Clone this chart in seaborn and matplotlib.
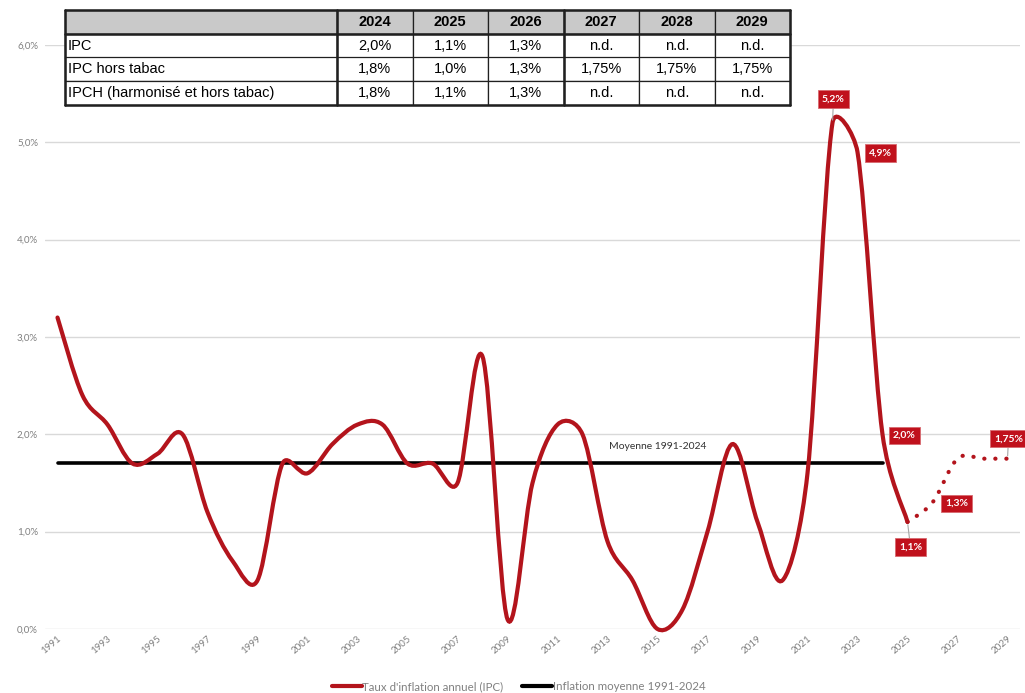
import matplotlib
matplotlib.use("Agg")
import matplotlib.pyplot as plt
from matplotlib.path import Path
from matplotlib.patches import PathPatch
from matplotlib.lines import Line2D
from matplotlib.ticker import FuncFormatter
import numpy as np
import pandas as pd
import seaborn as sns

# Taux d'inflation annuel (IPC), historique
years = list(range(1991, 2026))
inflation = [3.2, 2.4, 2.1, 1.7, 1.8, 2.0, 1.2, 0.7, 0.5, 1.7,
             1.6, 1.9, 2.1, 2.1, 1.7, 1.7, 1.5, 2.8, 0.1, 1.5,
             2.1, 2.0, 0.9, 0.5, 0.0, 0.2, 1.0, 1.9, 1.1, 0.5,
             1.6, 5.2, 4.9, 2.0, 1.1]

# Prévisions (pointillés)
fc_years = [2025, 2026, 2027, 2028, 2029]
fc_values = [1.1, 1.3, 1.75, 1.75, 1.75]

# Inflation moyenne 1991-2024
mean_years = [1991, 2024]
mean_value = 1.71

# Etiquettes de valeurs sur la courbe
label_years = [2022, 2023, 2024, 2025, 2026, 2029]
label_texts = ["5,2%", "4,9%", "2,0%", "1,1%", "1,3%", "1,75%"]

# Tableau
table_cols = ["", "2024", "2025", "2026", "2027", "2028", "2029"]
table_rows = ["IPC", "IPC hors tabac", "IPCH (harmonisé et hors tabac)"]
table_vals = [["2,0%", "1,1%", "1,3%", "n.d.", "n.d.", "n.d."],
              ["1,8%", "1,0%", "1,3%", "1,75%", "1,75%", "1,75%"],
              ["1,8%", "1,1%", "1,3%", "n.d.", "n.d.", "n.d."]]

RED = "#b3141c"
GREY = "#808080"

sns.set_style("white")
plt.rcParams["font.family"] = ["Lato", "DejaVu Sans"]


def smooth_path(ax, xs, ys, t=1 / 6):
    # Excel-like smoothed line: Bezier control points, capped where segments are short
    data = np.column_stack([xs, ys]).astype(float)
    pix = ax.transData.transform(data)
    n = len(data)
    verts = [tuple(data[0])]
    codes = [Path.MOVETO]

    def dist(a, b):
        return max(np.hypot(*(pix[a] - pix[b])), 1e-9)

    for i in range(n - 1):
        i0, i1, i2, i3 = max(i - 1, 0), i, i + 1, min(i + 2, n - 1)
        d12 = dist(i1, i2)
        f1 = min(t, 0.5 * d12 / dist(i0, i2))
        f2 = min(t, 0.5 * d12 / dist(i1, i3))
        c1 = data[i1] + (data[i2] - data[i0]) * f1
        c2 = data[i2] - (data[i3] - data[i1]) * f2
        verts += [tuple(c1), tuple(c2), tuple(data[i2])]
        codes += [Path.CURVE4] * 3
    return Path(verts, codes)


fig = plt.figure(figsize=(10.25, 6.93), dpi=100)
ax = fig.add_axes([45 / 1025, 1 - 629 / 693, 975 / 1025, 584 / 693])

df_mean = pd.DataFrame({"Année": mean_years, "Valeur": [mean_value] * 2})
sns.lineplot(data=df_mean, x="Année", y="Valeur", ax=ax, color="black", lw=2.6)

ax.set_xlim(1990.5, 2029.5)
ax.set_ylim(0, 6)

ax.add_patch(PathPatch(smooth_path(ax, years, inflation), fill=False,
                       edgecolor=RED, lw=3, capstyle="round", zorder=4,
                       clip_on=False))
ax.add_patch(PathPatch(smooth_path(ax, fc_years, fc_values), fill=False,
                       edgecolor=RED, lw=3, linestyle=(0, (0.05, 2.6)),
                       capstyle="round", zorder=4, clip_on=False))

ax.set_xticks(list(range(1991, 2030, 2)))
ax.set_yticks([0, 1, 2, 3, 4, 5, 6])
ax.yaxis.set_major_formatter(FuncFormatter(lambda v, p: f"{v:.1f}%".replace(".", ",")))
ax.grid(axis="y", color="#d9d9d9", lw=1)
ax.set_axisbelow(True)
for s in ax.spines.values():
    s.set_visible(False)
ax.tick_params(axis="both", length=0, colors=GREY, labelsize=7)
ax.tick_params(axis="y", pad=5)
plt.setp(ax.get_xticklabels(), rotation=40, ha="right", rotation_mode="anchor")
ax.set_xlabel("")
ax.set_ylabel("")

ax.text(2015, 1.87, "Moyenne 1991-2024", ha="center", va="center",
        fontsize=7.5, color="#333333")

# value labels
all_vals = dict(zip(years, inflation))
all_vals.update({y: v for y, v in zip(fc_years, fc_values) if y != 2025})
offsets = {2022: (1, 24), 2023: (23, -1), 2024: (22, -1), 2025: (3, -25),
           2026: (24, -1), 2029: (1, 20)}
connect = {2022, 2025, 2029}
for yr, txt in zip(label_years, label_texts):
    arrow = dict(arrowstyle="-", color="#a6a6a6", lw=0.8, shrinkA=0, shrinkB=2) if yr in connect else None
    ax.annotate(txt, xy=(yr, all_vals[yr]), xytext=offsets[yr],
                textcoords="offset pixels", ha="center", va="center",
                fontsize=7.5, fontweight="bold", color="white", zorder=6,
                annotation_clip=False, arrowprops=arrow,
                bbox=dict(boxstyle="square,pad=0.4", fc="#c0111c",
                          ec="#d76a70", lw=0.6))

handles = [Line2D([], [], color=RED, lw=3),
           Line2D([], [], color="black", lw=3)]
leg = fig.legend(handles, ["Taux d'inflation annuel (IPC)", "Inflation moyenne 1991-2024"],
                 loc="center", bbox_to_anchor=(0.506, 0.009), ncol=2, frameon=False,
                 fontsize=8.3, handlelength=2.6, handletextpad=0.05, columnspacing=1.6)
for t in leg.get_texts():
    t.set_color(GREY)

# table
tax = fig.add_axes([65 / 1025, 1 - 105 / 693, 725 / 1025, 95 / 693])
tax.axis("off")
cell_text = [[r] + v for r, v in zip(table_rows, table_vals)]
lab_w = 272 / 725
yr_w = (1 - lab_w) / 6
tbl = tax.table(cellText=cell_text, colLabels=table_cols, bbox=[0, 0, 1, 1],
                colWidths=[lab_w] + [yr_w] * 6, cellLoc="center")
tbl.auto_set_font_size(False)
for (r, c), cell in tbl.get_celld().items():
    cell.set_linewidth(0.9)
    cell.set_edgecolor("#202020")
    cell.get_text().set_fontfamily(["Liberation Sans", "DejaVu Sans"])
    cell.get_text().set_fontsize(10.5)
    cell.get_text().set_color("black")
    if r == 0:
        cell.set_facecolor("#c9c9c9")
        cell.get_text().set_fontweight("bold")
    if c == 0:
        cell.get_text().set_ha("left")
        cell.PAD = 0.01
        cell._loc = "left"

# thicker borders
for x in [0, lab_w, lab_w + 3 * yr_w, 1]:
    tax.plot([x, x], [0, 1], color="#202020", lw=1.8, transform=tax.transAxes, clip_on=False)
for y in [0, 0.75, 1]:
    tax.plot([0, 1], [y, y], color="#202020", lw=1.8, transform=tax.transAxes, clip_on=False)

fig.savefig("out.png", dpi=100)
